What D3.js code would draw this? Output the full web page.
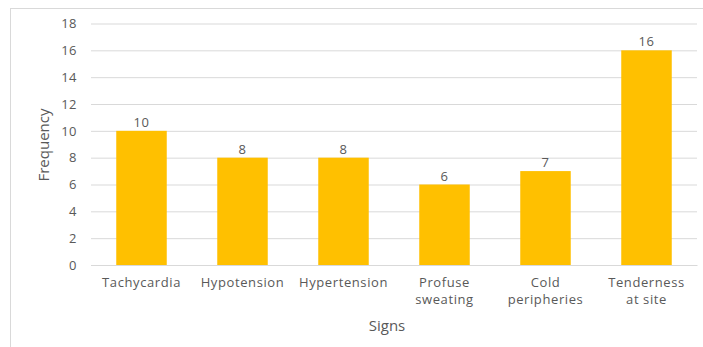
<!DOCTYPE html>
<html><head><meta charset="utf-8">
<script src="https://cdn.jsdelivr.net/npm/d3@7"></script>
<style>body{margin:0;background:#fff}svg{display:block}svg text{font-family:"Open Sans",sans-serif}</style>
</head><body><svg id="c" width="703" height="347"></svg>
<script>
const categories = [["Tachycardia"],["Hypotension"],["Hypertension"],["Profuse","sweating"],["Cold","peripheries"],["Tenderness","at site"]];
const values = [10, 8, 8, 6, 7, 16];
const yTicks = [0,2,4,6,8,10,12,14,16,18];
const xTitle = "Signs", yTitle = "Frequency";

const svg = d3.select("#c");
const W = 703, H = 347;
const m = {left: 91, right: 6, top: 23.5, bottom: 82};
svg.append("rect").attr("x",10.5).attr("y",8.5).attr("width",720).attr("height",400)
  .attr("fill","#fff").attr("stroke","#d9d9d9");
const keys = categories.map(c => c.join(" "));
const x = d3.scaleBand().domain(keys).range([m.left, W - m.right]).paddingInner(0.5).paddingOuter(0.25);
const y = d3.scaleLinear().domain([0,18]).range([H - m.bottom, m.top]);

const gy = svg.append("g").attr("transform",`translate(${m.left},0)`)
  .call(d3.axisLeft(y).tickValues(yTicks).tickSize(-(W - m.right - m.left)).tickPadding(14));
gy.attr("font-family",null).attr("font-size",null);
gy.select(".domain").remove();
gy.selectAll(".tick line").attr("stroke","#d9d9d9").attr("stroke-width",1);
gy.selectAll(".tick text").attr("fill","#595959").style("font-size","13px").style("letter-spacing","0.5px");

svg.selectAll("rect.bar").data(values).join("rect").attr("class","bar")
  .attr("x",(d,i)=>x(keys[i])).attr("width",x.bandwidth())
  .attr("y",d=>y(d)).attr("height",d=>y(0)-y(d)).attr("fill","#ffc000");

svg.selectAll("text.lab").data(values).join("text").attr("class","lab")
  .attr("x",(d,i)=>x(keys[i])+x.bandwidth()/2).attr("y",d=>y(d)-4)
  .attr("text-anchor","middle").attr("fill","#595959").style("font-size","13px").style("letter-spacing","0.5px").text(d=>d);

const gx = svg.append("g").attr("transform",`translate(0,${y(0)})`)
  .call(d3.axisBottom(x).tickSize(0).tickPadding(0));
gx.attr("font-family",null).attr("font-size",null);
gx.select(".domain").attr("stroke","#d9d9d9");
gx.selectAll(".tick text").each(function(k,i){
  const t = d3.select(this).text(null).attr("fill","#595959").style("font-size","13px")
    .style("letter-spacing","0.6px").attr("y",null).attr("dy",null);
  categories[i].forEach((line,j)=>t.append("tspan").attr("x",0).attr("y",22 + j*17).text(line));
});

svg.append("text").attr("x",(m.left + W - m.right)/2 - 7).attr("y",331).attr("text-anchor","middle")
  .attr("fill","#595959").style("font-size","15px").text(xTitle);
svg.append("text").attr("transform",`translate(49,145) rotate(-90)`).attr("text-anchor","middle")
  .attr("fill","#595959").style("font-size","15px").text(yTitle);
</script></body></html>
